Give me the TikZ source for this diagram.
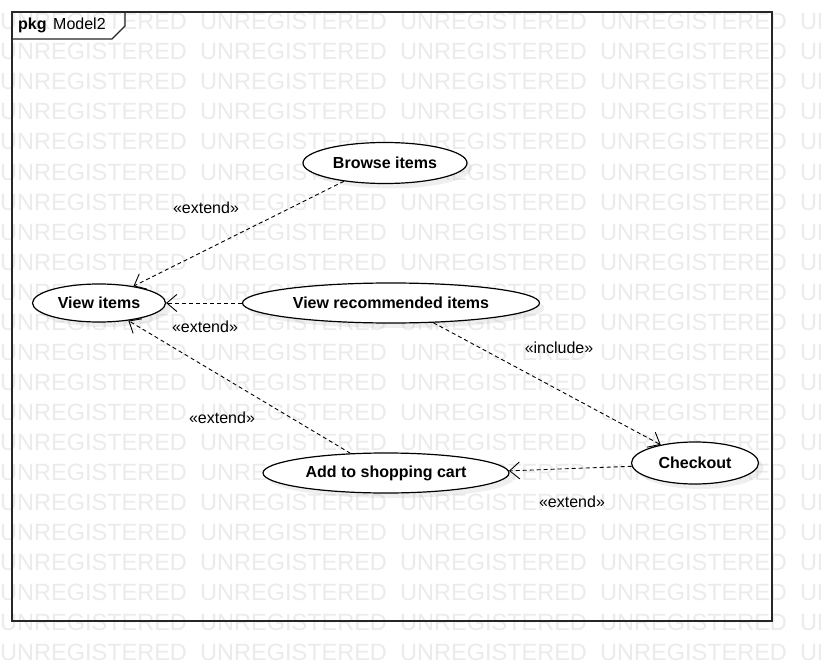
\documentclass[tikz,border=0pt]{standalone}
\usepackage{fontspec}
\setmainfont{Liberation Sans}
\usetikzlibrary{arrows.meta,shapes.geometric,shadows}

\begin{document}
\begin{tikzpicture}[x=1pt,y=-1pt,
  usecase/.style={ellipse,draw=black,line width=1.2pt,fill=white,inner sep=0pt,
    font=\fontsize{16}{18}\selectfont\bfseries,
    drop shadow={shadow xshift=5pt,shadow yshift=-5pt,fill=black!30,opacity=0.2}},
  dep/.style={dash pattern=on 4pt off 3pt,line width=0.9pt,
    -{Straight Barb[length=10pt,width=17pt,line width=0.9pt]}},
  stereo/.style={font=\fontsize{16}{18}\selectfont,inner sep=0pt},
  wm/.style={font=\fontsize{23.5}{26}\selectfont,text=black!8,inner sep=0pt,anchor=base west},
  frameline/.style={draw=black!85,line width=1.3pt}]
\useasboundingbox (0,0) rectangle (821,671);
\fill[white] (0,0) rectangle (821,671);

% background watermark rows
\foreach \r in {0,...,21}{
  \foreach \c in {0,...,4}{
    \node[wm] (wm-\r-\c) at (200*\c, 30+30*\r) {UNREGISTERED};
  }
}

% package frame with name tab
\draw[frameline] (12,12) rectangle (772,621);
\draw[frameline] (12,39) -- (112,39) -- (125,26) -- (125,12);
\node[inner sep=0pt,anchor=base west,font=\fontsize{16}{18}\selectfont\bfseries] (pkg) at (18,30) {pkg};
\node[inner sep=0pt,anchor=base west,font=\fontsize{16}{18}\selectfont] (pkgname) at (53,30) {Model2};

% use cases
\node[usecase,minimum width=164pt,minimum height=41pt] (browse) at (385,163) {Browse items};
\node[usecase,minimum width=133pt,minimum height=38pt] (view) at (99,303) {View items};
\node[usecase,minimum width=297pt,minimum height=40pt] (rec) at (391,303) {View recommended items};
\node[usecase,minimum width=246pt,minimum height=40pt] (cart) at (386,473) {Add to shopping cart};
\node[usecase,minimum width=127pt,minimum height=42pt] (checkout) at (695,463) {Checkout};

% dependencies
\draw[dep] (browse.204) -- (view.26);
\draw[dep] (rec.west) -- (view.east);
\draw[dep] (cart.151) -- (view.-31);
\draw[dep] (rec.-25) -- (checkout.152);
\draw[dep] (checkout.183) -- (cart.1.5);

% stereotype labels
\node[stereo] (l1) at (206,208) {«extend»};
\node[stereo] (l2) at (205,327) {«extend»};
\node[stereo] (l3) at (222,418) {«extend»};
\node[stereo] (l4) at (559,348) {«include»};
\node[stereo] (l5) at (572,502) {«extend»};
\end{tikzpicture}
\end{document}
